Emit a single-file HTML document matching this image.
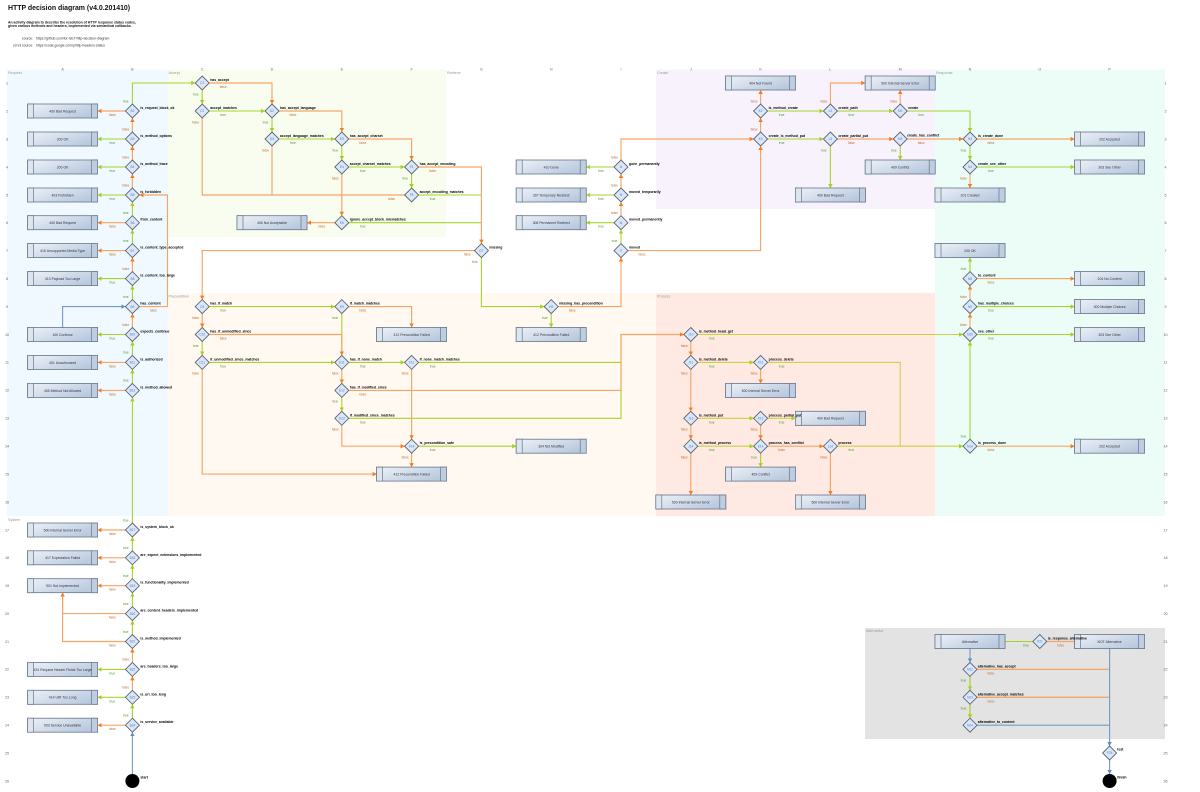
<!DOCTYPE html>
<html><head><meta charset="utf-8"><title>HTTP decision diagram</title>
<style>
html,body{margin:0;padding:0;background:#fff}
svg{display:block;font-family:"Liberation Sans",sans-serif}
path{fill:none}
.g path{stroke:#a9d32c;stroke-width:1.1;marker-end:url(#mg)}
.o path{stroke:#f6a566;stroke-width:1.15;marker-end:url(#mo)}
.b path{stroke:#7399c6;stroke-width:1.1;marker-end:url(#mb)}
.g path.n,.o path.n,.b path.n{marker-end:none}
.n1 text{font-size:3.45px;font-weight:bold;fill:#000}
.id text{font-size:3.2px;fill:#4a7fd0;text-anchor:middle}
.bx text{font-size:3.45px;fill:#334;text-anchor:middle}
.t text{font-size:3.3px;fill:#4f9a2e;text-anchor:middle}
.f text{font-size:3.3px;fill:#c4713a;text-anchor:middle}
.sec text{font-size:3.7px;fill:#999}
.gr text{font-size:3.7px;fill:#666;text-anchor:middle}
</style></head><body>
<svg width="1200" height="792" viewBox="0 0 1200 792" xmlns="http://www.w3.org/2000/svg">
<defs>
<marker id="mg" markerUnits="userSpaceOnUse" markerWidth="5" markerHeight="5" refX="4" refY="2.25" orient="auto"><path d="M0 0L4 2.25L0 4.5Z" style="fill:#a4d01e;stroke:none;marker-end:none"/></marker>
<marker id="mo" markerUnits="userSpaceOnUse" markerWidth="5" markerHeight="5" refX="4" refY="2.25" orient="auto"><path d="M0 0L4 2.25L0 4.5Z" style="fill:#f57d20;stroke:none;marker-end:none"/></marker>
<marker id="mb" markerUnits="userSpaceOnUse" markerWidth="5" markerHeight="5" refX="4" refY="2.25" orient="auto"><path d="M0 0L4 2.25L0 4.5Z" style="fill:#5f8bc2;stroke:none;marker-end:none"/></marker>
<linearGradient id="bg" x1="0" y1="0" x2="1" y2="0.6"><stop offset="0" stop-color="#eef2f8"/><stop offset="1" stop-color="#b9c9de"/></linearGradient>
<g id="d"><path d="M0 -7L7 0L0 7L-7 0Z" style="fill:#dbe7f6;stroke:#5b6675;stroke-width:.9"/></g>
<g id="r"><rect x="-35" y="-7" width="70" height="14" fill="url(#bg)" stroke="#66768c" stroke-width=".8"/><rect x="-35" y="-7" width="6" height="14" fill="#dde5ef" stroke="#66768c" stroke-width=".7"/><rect x="29" y="-7" width="6" height="14" fill="#bfcde0" stroke="#66768c" stroke-width=".7"/></g>
</defs>

<!-- swimlanes -->
<rect x="7" y="69.5" width="161" height="446.5" fill="#f0f9ff"/>
<rect x="168" y="69.5" width="278" height="167.5" fill="#f8fdf0"/>
<rect x="656" y="69.5" width="279" height="139.5" fill="#f8f2fd"/>
<rect x="935" y="69.5" width="230" height="446.5" fill="#ecfdf7"/>
<rect x="168" y="293" width="488" height="223" fill="#fff9f1"/>
<rect x="656" y="293" width="279" height="223" fill="#ffe9e3"/>
<rect x="865" y="628" width="300" height="111" fill="#e3e3e3"/>

<text x="8" y="10" font-size="6.95" font-weight="bold" fill="#111">HTTP decision diagram (v4.0.201410)</text>
<text x="8" y="23.6" font-size="3.45" font-weight="bold" fill="#111">An activity diagram to describe the resolution of HTTP response status codes,</text>
<text x="8" y="27" font-size="3.45" font-weight="bold" fill="#111">given various methods and headers, implemented via semantical callbacks.</text>
<text x="22" y="39.5" font-size="3.4" fill="#333">source:</text>
<text x="36" y="39.5" font-size="3.4" fill="#333">https://github.com/for-GET/http-decision-diagram</text>
<text x="13" y="46.5" font-size="3.4" fill="#333">v3 v3 source:</text>
<text x="36" y="46.5" font-size="3.4" fill="#333">https://code.google.com/p/http-headers-status</text>

<g class="sec">
<text x="8" y="74">Request</text><text x="168.5" y="74">Accept</text><text x="447" y="74">Retrieve</text><text x="657" y="74">Create</text><text x="936" y="74">Response</text>
<text x="168.5" y="297.5">Precondition</text><text x="657" y="297.5">Process</text><text x="8" y="521">System</text><text x="866" y="632">Alternative</text>
</g>
<g class="gr">
<text x="62.6" y="70.5">A</text><text x="132.4" y="70.5">B</text><text x="202.2" y="70.5">C</text><text x="272" y="70.5">D</text><text x="341.8" y="70.5">E</text><text x="411.6" y="70.5">F</text><text x="481.4" y="70.5">G</text><text x="551.2" y="70.5">H</text><text x="621" y="70.5">I</text><text x="690.8" y="70.5">J</text><text x="760.6" y="70.5">K</text><text x="830.4" y="70.5">L</text><text x="900.2" y="70.5">M</text><text x="970" y="70.5">N</text><text x="1039.8" y="70.5">O</text><text x="1109.6" y="70.5">P</text>
<text x="7" y="84.3">1</text><text x="7" y="112.3">2</text><text x="7" y="140.3">3</text><text x="7" y="168.3">4</text><text x="7" y="196.3">5</text><text x="7" y="224">6</text><text x="7" y="251.9">7</text><text x="7" y="279.9">8</text><text x="7" y="307.9">9</text><text x="7" y="335.8">10</text><text x="7" y="363.7">11</text><text x="7" y="391.7">12</text><text x="7" y="419.6">13</text><text x="7" y="447.5">14</text><text x="7" y="475.4">15</text><text x="7" y="503.3">16</text><text x="7" y="531.3">17</text><text x="7" y="559.1">18</text><text x="7" y="587">19</text><text x="7" y="614.9">20</text><text x="7" y="642.8">21</text><text x="7" y="670.7">22</text><text x="7" y="698.6">23</text><text x="7" y="726.5">24</text><text x="7" y="754.3">25</text><text x="7" y="782.3">26</text>
<text x="1165.5" y="84.3">1</text><text x="1165.5" y="112.3">2</text><text x="1165.5" y="140.3">3</text><text x="1165.5" y="168.3">4</text><text x="1165.5" y="196.3">5</text><text x="1165.5" y="224">6</text><text x="1165.5" y="251.9">7</text><text x="1165.5" y="279.9">8</text><text x="1165.5" y="307.9">9</text><text x="1165.5" y="335.8">10</text><text x="1165.5" y="363.7">11</text><text x="1165.5" y="391.7">12</text><text x="1165.5" y="419.6">13</text><text x="1165.5" y="447.5">14</text><text x="1165.5" y="475.4">15</text><text x="1165.5" y="503.3">16</text><text x="1165.5" y="531.3">17</text><text x="1165.5" y="559.1">18</text><text x="1165.5" y="587">19</text><text x="1165.5" y="614.9">20</text><text x="1165.5" y="642.8">21</text><text x="1165.5" y="670.7">22</text><text x="1165.5" y="698.6">23</text><text x="1165.5" y="726.5">24</text><text x="1165.5" y="754.3">25</text><text x="1165.5" y="782.3">26</text>
</g>

<!-- green connectors -->
<g class="g">
<path d="M132.4 104V83H195.2"/><path d="M125.4 139H97.6"/><path d="M125.4 167H97.6"/><path d="M125.4 195H97.6"/><path d="M132.4 215.7V202"/><path d="M132.4 243.6V229.7"/><path d="M125.4 278.6H97.6"/><path d="M132.4 299.6V285.6"/><path d="M125.4 334.5H97.6"/><path d="M132.4 355.4V341.5"/><path d="M132.4 383.4V369.4"/><path d="M132.4 523V397.4"/>
<path d="M132.4 550.8V537"/><path d="M132.4 578.7V564.8"/><path d="M132.4 606.6V592.7"/><path d="M132.4 634.5V620.6"/><path d="M125.4 669.4H97.6"/><path d="M125.4 697.3H97.6"/><path d="M132.4 718.2V704.3"/>
<path d="M202.2 90V104"/><path d="M209.2 111H265"/><path d="M272 118V132"/><path d="M279 139H334.8"/><path d="M341.8 146V160"/><path d="M348.8 167H404.6"/><path d="M411.6 174V188"/><path class="n" d="M418.6 195H481.4"/><path class="n" d="M348.8 222.7H481.4"/>
<path d="M481.4 257.6V306.6H544.2"/><path d="M551.2 313.6V327.5"/><path d="M621 243.6V229.7"/><path d="M614 222.7H586.2"/><path d="M614 195H586.2"/><path d="M614 167H586.2"/>
<path d="M767.6 139H823.4"/><path d="M767.6 111H823.4"/><path d="M837.4 111H893.2"/><path d="M907.2 111H970V132"/><path d="M830.4 146V188"/><path d="M900.2 146V160"/><path d="M970 146V160"/><path d="M977 167H1074.6"/>
<path d="M970 271.6V257.6"/><path d="M977 306.6H1074.6"/><path d="M977 334.5H1074.6"/><path d="M970 439.2V341.5"/>
<path d="M209.2 306.6H334.8"/><path d="M202.2 341.5V355.4"/><path d="M209.2 362.4H334.8"/><path class="n" d="M341.8 313.6V355.4"/><path d="M348.8 362.4H404.6"/><path class="n" d="M418.6 362.4H621"/><path class="n" d="M348.8 418.3H621V334.5"/><path d="M341.8 397.4V411.3"/><path d="M418.6 446.2H516.2"/>
<path d="M697.8 334.5H963" style="stroke:#c9d241"/><path d="M697.8 362.4H753.6" style="stroke:#c9d241"/><path class="n" d="M767.6 362.4H900.2V446.2" style="stroke:#d6cd50"/><path d="M697.8 418.3H753.6" style="stroke:#c9d241"/><path d="M767.6 418.3H795.4" style="stroke:#c9d241"/><path d="M697.8 446.2H753.6" style="stroke:#c9d241"/><path d="M760.6 453.2V467.1"/><path d="M837.4 446.2H963" style="stroke:#c9d241"/>
<path class="n" d="M1032.8 641.5H1005"/><path d="M970 676.4V690.3" style="stroke-width:1.3"/><path d="M970 704.3V718.2" style="stroke-width:1.3"/>
</g>

<!-- orange connectors -->
<g class="o">
<path d="M125.4 111H97.6"/><path d="M132.4 132V118"/><path d="M132.4 160V146"/><path d="M132.4 188V174"/><path d="M125.4 222.7H97.6"/><path d="M125.4 250.6H97.6"/><path d="M132.4 271.6V257.6"/><path d="M139.4 306.6H167.5V195H139.4"/><path d="M132.4 327.5V313.6"/><path d="M125.4 362.4H97.6"/><path d="M125.4 390.4H97.6"/>
<path d="M125.4 530H97.6"/><path d="M125.4 557.8H97.6"/><path d="M125.4 585.7H97.6"/><path d="M125.4 613.6H62.6V592.7"/><path d="M125.4 641.5H62.6V592.7"/><path d="M132.4 662.4V648.5"/><path d="M132.4 690.3V676.4"/><path d="M125.4 725.2H97.6"/>
<path d="M209.2 83H272V104"/><path class="n" d="M202.2 118V195H341.8"/><path d="M279 111H341.8V132"/><path class="n" d="M272 146V195"/><path d="M348.8 139H411.6V160"/><path d="M341.8 174V215.7"/><path d="M418.6 167H481.4V243.6"/><path class="n" d="M404.6 195H341.8"/><path d="M334.8 222.7H307"/><path d="M474.4 250.6H202.2V299.6"/>
<path d="M558.2 306.6H621V257.6"/><path d="M628 250.6H760.6V146"/><path d="M621 215.7V202"/><path d="M621 188V174"/><path d="M621 160V139H753.6"/><path d="M760.6 132V118"/><path d="M760.6 104V90"/><path d="M830.4 104V83H865.2"/><path d="M900.2 104V90"/><path d="M837.4 139H893.2"/><path d="M907.2 139H963"/><path d="M977 139H1074.6"/><path d="M970 174V188"/>
<path d="M977 278.6H1074.6"/><path d="M970 299.6V285.6"/><path d="M970 327.5V313.6"/><path d="M977 446.2H1074.6"/>
<path d="M202.2 313.6V327.5"/><path d="M209.2 334.5H341.8V355.4"/><path d="M202.2 369.4V474.1H376.6"/><path d="M348.8 306.6H411.6V327.5"/><path d="M341.8 369.4V383.4"/><path d="M348.8 390.4H621V334.5H683.8"/><path d="M411.6 369.4V439.2"/><path d="M341.8 425.3V446.2H404.6"/><path d="M411.6 453.2V467.1"/>
<path d="M690.8 341.5V355.4"/><path d="M690.8 369.4V411.3"/><path d="M760.6 369.4V383.4"/><path d="M690.8 425.3V439.2"/><path d="M760.6 425.3V439.2"/><path d="M690.8 453.2V495"/><path d="M767.6 446.2H823.4"/><path d="M830.4 453.2V495"/>
<path class="n" d="M1046.8 641.5H1074.6"/><path class="n" d="M977 669.4H1109.6" style="stroke-width:1.3"/><path class="n" d="M977 697.3H1109.6" style="stroke-width:1.3"/>
</g>

<!-- blue connectors -->
<g class="b">
<path d="M132.4 774V732.2"/><path d="M62.6 327.5V306.6H125.4"/><path d="M970 648.5V662.4"/><path class="n" d="M977 725.2H1109.6"/><path d="M1109.6 648.5V746"/><path d="M1109.6 760V774"/>
</g>

<!-- boxes -->
<use href="#r" x="62.6" y="111"/><use href="#r" x="62.6" y="139"/><use href="#r" x="62.6" y="167"/><use href="#r" x="62.6" y="195"/><use href="#r" x="62.6" y="222.7"/><use href="#r" x="62.6" y="250.6"/><use href="#r" x="62.6" y="278.6"/><use href="#r" x="62.6" y="334.5"/><use href="#r" x="62.6" y="362.4"/><use href="#r" x="62.6" y="390.4"/>
<use href="#r" x="62.6" y="530"/><use href="#r" x="62.6" y="557.8"/><use href="#r" x="62.6" y="585.7"/><use href="#r" x="62.6" y="669.4"/><use href="#r" x="62.6" y="697.3"/><use href="#r" x="62.6" y="725.2"/>
<use href="#r" x="272" y="222.7"/><use href="#r" x="551.2" y="167"/><use href="#r" x="551.2" y="195"/><use href="#r" x="551.2" y="222.7"/><use href="#r" x="760.6" y="83"/><use href="#r" x="900.2" y="83"/><use href="#r" x="830.4" y="195"/><use href="#r" x="900.2" y="167"/><use href="#r" x="970" y="195"/><use href="#r" x="1109.6" y="139"/><use href="#r" x="1109.6" y="167"/>
<use href="#r" x="970" y="250.6"/><use href="#r" x="1109.6" y="278.6"/><use href="#r" x="1109.6" y="306.6"/><use href="#r" x="1109.6" y="334.5"/><use href="#r" x="1109.6" y="446.2"/>
<use href="#r" x="411.6" y="334.5"/><use href="#r" x="411.6" y="474.1"/><use href="#r" x="551.2" y="334.5"/><use href="#r" x="551.2" y="446.2"/><use href="#r" x="760.6" y="390.4"/><use href="#r" x="830.4" y="418.3"/><use href="#r" x="760.6" y="474.1"/><use href="#r" x="690.8" y="502"/><use href="#r" x="830.4" y="502"/>
<use href="#r" x="970" y="641.5"/><use href="#r" x="1109.6" y="641.5"/>
<g class="bx">
<text x="62.6" y="112.4">400 Bad Request</text><text x="62.6" y="140.4">200 OK</text><text x="62.6" y="168.4">200 OK</text><text x="62.6" y="196.4">403 Forbidden</text><text x="62.6" y="224.1">400 Bad Request</text><text x="62.6" y="252">415 Unsupported Media Type</text><text x="62.6" y="280">413 Payload Too Large</text><text x="62.6" y="335.9">100 Continue</text><text x="62.6" y="363.8">401 Unauthorized</text><text x="62.6" y="391.8">405 Method Not Allowed</text>
<text x="62.6" y="531.4">500 Internal Server Error</text><text x="62.6" y="559.2">417 Expectation Failed</text><text x="62.6" y="587.1">501 Not Implemented</text><text x="62.6" y="670.8">431 Request Header Fields Too Large</text><text x="62.6" y="698.7">414 URI Too Long</text><text x="62.6" y="726.6">503 Service Unavailable</text>
<text x="272" y="224.1">406 Not Acceptable</text><text x="551.2" y="168.4">410 Gone</text><text x="551.2" y="196.4">307 Temporary Redirect</text><text x="551.2" y="224.1">308 Permanent Redirect</text><text x="760.6" y="84.4">404 Not Found</text><text x="900.2" y="84.4">500 Internal Server Error</text><text x="830.4" y="196.4">400 Bad Request</text><text x="900.2" y="168.4">409 Conflict</text><text x="970" y="196.4">201 Created</text><text x="1109.6" y="140.4">202 Accepted</text><text x="1109.6" y="168.4">303 See Other</text>
<text x="970" y="252">200 OK</text><text x="1109.6" y="280">204 No Content</text><text x="1109.6" y="308">300 Multiple Choices</text><text x="1109.6" y="335.9">303 See Other</text><text x="1109.6" y="447.6">202 Accepted</text>
<text x="411.6" y="335.9">412 Precondition Failed</text><text x="411.6" y="475.5">412 Precondition Failed</text><text x="551.2" y="335.9">412 Precondition Failed</text><text x="551.2" y="447.6">304 Not Modified</text><text x="760.6" y="391.8">500 Internal Server Error</text><text x="830.4" y="419.7">400 Bad Request</text><text x="760.6" y="475.5">409 Conflict</text><text x="690.8" y="503.4">500 Internal Server Error</text><text x="830.4" y="503.4">500 Internal Server Error</text>
<text x="970" y="642.9">Alternative</text><text x="1109.6" y="642.9">NOT Alternative</text>
</g>

<!-- diamonds -->
<use href="#d" x="132.4" y="111"/><use href="#d" x="132.4" y="139"/><use href="#d" x="132.4" y="167"/><use href="#d" x="132.4" y="195"/><use href="#d" x="132.4" y="222.7"/><use href="#d" x="132.4" y="250.6"/><use href="#d" x="132.4" y="278.6"/><use href="#d" x="132.4" y="306.6"/><use href="#d" x="132.4" y="334.5"/><use href="#d" x="132.4" y="362.4"/><use href="#d" x="132.4" y="390.4"/>
<use href="#d" x="132.4" y="530"/><use href="#d" x="132.4" y="557.8"/><use href="#d" x="132.4" y="585.7"/><use href="#d" x="132.4" y="613.6"/><use href="#d" x="132.4" y="641.5"/><use href="#d" x="132.4" y="669.4"/><use href="#d" x="132.4" y="697.3"/><use href="#d" x="132.4" y="725.2"/>
<use href="#d" x="202.2" y="83"/><use href="#d" x="202.2" y="111"/><use href="#d" x="272" y="111"/><use href="#d" x="272" y="139"/><use href="#d" x="341.8" y="139"/><use href="#d" x="341.8" y="167"/><use href="#d" x="411.6" y="167"/><use href="#d" x="411.6" y="195"/><use href="#d" x="341.8" y="222.7"/><use href="#d" x="481.4" y="250.6"/><use href="#d" x="551.2" y="306.6"/>
<use href="#d" x="621" y="250.6"/><use href="#d" x="621" y="222.7"/><use href="#d" x="621" y="195"/><use href="#d" x="621" y="167"/><use href="#d" x="760.6" y="139"/><use href="#d" x="760.6" y="111"/><use href="#d" x="830.4" y="111"/><use href="#d" x="830.4" y="139"/><use href="#d" x="900.2" y="111"/><use href="#d" x="900.2" y="139"/><use href="#d" x="970" y="139"/><use href="#d" x="970" y="167"/>
<use href="#d" x="970" y="278.6"/><use href="#d" x="970" y="306.6"/><use href="#d" x="970" y="334.5"/><use href="#d" x="970" y="446.2"/>
<use href="#d" x="202.2" y="306.6"/><use href="#d" x="202.2" y="334.5"/><use href="#d" x="202.2" y="362.4"/><use href="#d" x="341.8" y="306.6"/><use href="#d" x="341.8" y="362.4"/><use href="#d" x="341.8" y="390.4"/><use href="#d" x="341.8" y="418.3"/><use href="#d" x="411.6" y="362.4"/><use href="#d" x="411.6" y="446.2"/>
<use href="#d" x="690.8" y="334.5"/><use href="#d" x="690.8" y="362.4"/><use href="#d" x="690.8" y="418.3"/><use href="#d" x="690.8" y="446.2"/><use href="#d" x="760.6" y="362.4"/><use href="#d" x="760.6" y="418.3"/><use href="#d" x="760.6" y="446.2"/><use href="#d" x="830.4" y="446.2"/>
<use href="#d" x="1039.8" y="641.5"/><use href="#d" x="970" y="669.4"/><use href="#d" x="970" y="697.3"/><use href="#d" x="970" y="725.2"/><use href="#d" x="1109.6" y="753"/>
<circle cx="132.4" cy="781" r="7" fill="#000"/><circle cx="1109.6" cy="781" r="7" fill="#000"/>

<g class="id">
<text x="132.4" y="112.2">B2</text><text x="132.4" y="140.2">B3</text><text x="132.4" y="168.2">B4</text><text x="132.4" y="196.2">B5</text><text x="132.4" y="223.9">B6</text><text x="132.4" y="251.8">B7</text><text x="132.4" y="279.8">B8</text><text x="132.4" y="307.8">B9</text><text x="132.4" y="335.7">B10</text><text x="132.4" y="363.6">B11</text><text x="132.4" y="391.6">B12</text>
<text x="132.4" y="531.2">B17</text><text x="132.4" y="559">B18</text><text x="132.4" y="586.9">B19</text><text x="132.4" y="614.8">B20</text><text x="132.4" y="642.7">B21</text><text x="132.4" y="670.6">B22</text><text x="132.4" y="698.5">B23</text><text x="132.4" y="726.4">B24</text>
<text x="202.2" y="84.2">C1</text><text x="202.2" y="112.2">C2</text><text x="272" y="112.2">D2</text><text x="272" y="140.2">D3</text><text x="341.8" y="140.2">E3</text><text x="341.8" y="168.2">E4</text><text x="411.6" y="168.2">F4</text><text x="411.6" y="196.2">F5</text><text x="341.8" y="223.9">E6</text><text x="481.4" y="251.8">G7</text><text x="551.2" y="307.8">H9</text>
<text x="621" y="251.8">I7</text><text x="621" y="223.9">I6</text><text x="621" y="196.2">I5</text><text x="621" y="168.2">I4</text><text x="760.6" y="140.2">K3</text><text x="760.6" y="112.2">K2</text><text x="830.4" y="112.2">L2</text><text x="830.4" y="140.2">L3</text><text x="900.2" y="112.2">M2</text><text x="900.2" y="140.2">M3</text><text x="970" y="140.2">N3</text><text x="970" y="168.2">N4</text>
<text x="970" y="279.8">N8</text><text x="970" y="307.8">N9</text><text x="970" y="335.7">N10</text><text x="970" y="447.4">N14</text>
<text x="202.2" y="307.8">C9</text><text x="202.2" y="335.7">C10</text><text x="202.2" y="363.6">C11</text><text x="341.8" y="307.8">E9</text><text x="341.8" y="363.6">E11</text><text x="341.8" y="391.6">E12</text><text x="341.8" y="419.5">E13</text><text x="411.6" y="363.6">F11</text><text x="411.6" y="447.4">F14</text>
<text x="690.8" y="335.7">J10</text><text x="690.8" y="363.6">J11</text><text x="690.8" y="419.5">J13</text><text x="690.8" y="447.4">J14</text><text x="760.6" y="363.6">K11</text><text x="760.6" y="419.5">K13</text><text x="760.6" y="447.4">K14</text><text x="830.4" y="447.4">L14</text>
<text x="1039.8" y="642.7">O21</text><text x="970" y="670.6">N22</text><text x="970" y="698.5">N23</text><text x="970" y="726.4">N24</text><text x="1109.6" y="754.2">P25</text>
</g>

<g class="n1">
<text x="140.4" y="109">is_request_block_ok</text><text x="140.4" y="137">is_method_options</text><text x="140.4" y="165">is_method_trace</text><text x="140.4" y="193">is_forbidden</text><text x="140.4" y="220.7">from_content</text><text x="140.4" y="248.6">is_content_type_accepted</text><text x="140.4" y="276.6">is_content_too_large</text><text x="140.4" y="304.6">has_content</text><text x="140.4" y="332.5">expects_continue</text><text x="140.4" y="360.4">is_authorized</text><text x="140.4" y="388.4">is_method_allowed</text>
<text x="140.4" y="528">is_system_block_ok</text><text x="140.4" y="555.8">are_expect_extensions_implemented</text><text x="140.4" y="583.7">is_functionality_implemented</text><text x="140.4" y="611.6">are_content_headers_implemented</text><text x="140.4" y="639.5">is_method_implemented</text><text x="140.4" y="667.4">are_headers_too_large</text><text x="140.4" y="695.3">is_uri_too_long</text><text x="140.4" y="723.2">is_service_available</text><text x="140.4" y="778.6">start</text>
<text x="210.2" y="81">has_accept</text><text x="210.2" y="109">accept_matches</text><text x="280" y="109">has_accept_language</text><text x="280" y="137">accept_language_matches</text><text x="349.8" y="137">has_accept_charset</text><text x="349.8" y="165">accept_charset_matches</text><text x="419.6" y="165">has_accept_encoding</text><text x="419.6" y="193">accept_encoding_matches</text><text x="349.8" y="220.7">ignore_accept_block_mismatches</text><text x="489.4" y="248.6">missing</text><text x="559.2" y="304.6">missing_has_precondition</text>
<text x="629" y="248.6">moved</text><text x="629" y="220.7">moved_permanently</text><text x="629" y="193">moved_temporarily</text><text x="629" y="165">gone_permanently</text><text x="768.6" y="137">create_is_method_put</text><text x="768.6" y="109">is_method_create</text><text x="838.4" y="109">create_path</text><text x="838.4" y="137">create_partial_put</text><text x="908.2" y="109">create</text><text x="907" y="136.5">create_has_conflict</text><text x="978" y="137">is_create_done</text><text x="978" y="165">create_see_other</text>
<text x="978" y="276.6">to_content</text><text x="978" y="304.6">has_multiple_choices</text><text x="978" y="332.5">see_other</text><text x="978" y="444.2">is_process_done</text>
<text x="210.2" y="304.6">has_if_match</text><text x="210.2" y="332.5">has_if_unmodified_since</text><text x="210.2" y="360.4">if_unmodified_since_matches</text><text x="349.8" y="304.6">if_match_matches</text><text x="349.8" y="360.4">has_if_none_match</text><text x="349.8" y="388.4">has_if_modified_since</text><text x="349.8" y="416.3">if_modified_since_matches</text><text x="419.6" y="360.4">if_none_match_matches</text><text x="419.6" y="444.2">is_precondition_safe</text>
<text x="698.8" y="332.5">is_method_head_get</text><text x="698.8" y="360.4">is_method_delete</text><text x="698.8" y="416.3">is_method_put</text><text x="698.8" y="444.2">is_method_process</text><text x="768.6" y="360.4">process_delete</text><text x="768.6" y="416.3">process_partial_put</text><text x="768.6" y="444.2">process_has_conflict</text><text x="838.4" y="444.2">process</text>
<text x="1047.8" y="639.5">is_response_alternative</text><text x="977.8" y="667.4">alternative_has_accept</text><text x="977.8" y="695.3">alternative_accept_matches</text><text x="977.8" y="723.2">alternative_to_content</text><text x="1117.3" y="750.6">test</text><text x="1117.3" y="778.6">finish</text>
</g>

<g class="t">
<text x="125.7" y="102.3">true</text><text x="112.4" y="144">true</text><text x="112.4" y="172">true</text><text x="112.4" y="200">true</text><text x="125.7" y="214">true</text><text x="125.7" y="241.9">true</text><text x="112.4" y="283.6">true</text><text x="125.7" y="297.9">true</text><text x="112.4" y="339.5">true</text><text x="125.7" y="353.7">true</text><text x="125.7" y="381.7">true</text><text x="125.7" y="521.3">true</text><text x="125.7" y="549.1">true</text><text x="125.7" y="577">true</text><text x="125.7" y="604.9">true</text><text x="125.7" y="632.8">true</text><text x="112.4" y="674.4">true</text><text x="112.4" y="702.3">true</text><text x="125.7" y="716.5">true</text>
<text x="195.7" y="95.3">true</text><text x="223.2" y="116">true</text><text x="265.5" y="123.3">true</text><text x="293" y="144">true</text><text x="335.3" y="151.3">true</text><text x="362.8" y="172">true</text><text x="405.1" y="179.3">true</text><text x="432.6" y="200">true</text><text x="362.8" y="227.7">true</text><text x="474.9" y="262.9">true</text><text x="544.7" y="318.9">true</text>
<text x="614.5" y="241.9">true</text><text x="601" y="227.7">true</text><text x="601" y="200">true</text><text x="601" y="172">true</text><text x="781.6" y="144">true</text><text x="781.6" y="116">true</text><text x="851.4" y="116">true</text><text x="823.9" y="151.3">true</text><text x="921.2" y="116">true</text><text x="893.7" y="151.3">true</text><text x="963.5" y="151.3">true</text><text x="991" y="172">true</text>
<text x="963.5" y="269.9">true</text><text x="991" y="311.6">true</text><text x="991" y="339.5">true</text><text x="963.5" y="437.5">true</text>
<text x="223.2" y="311.6">true</text><text x="195.7" y="346.8">true</text><text x="223.2" y="367.4">true</text><text x="335.3" y="318.9">true</text><text x="362.8" y="367.4">true</text><text x="335.3" y="402.7">true</text><text x="362.8" y="423.3">true</text><text x="432.6" y="367.4">true</text><text x="432.6" y="451.2">true</text>
<text x="711.8" y="339.5">true</text><text x="711.8" y="367.4">true</text><text x="711.8" y="423.3">true</text><text x="711.8" y="451.2">true</text><text x="781.6" y="367.4">true</text><text x="781.6" y="423.3">true</text><text x="754.1" y="458.5">true</text><text x="851.4" y="451.2">true</text>
<text x="1026" y="646.5">true</text><text x="963.5" y="681.7">true</text><text x="963.5" y="709.6">true</text>
</g>
<g class="f">
<text x="112.4" y="116">false</text><text x="125.7" y="130.3">false</text><text x="125.7" y="158.3">false</text><text x="125.7" y="186.3">false</text><text x="112.4" y="227.7">false</text><text x="112.4" y="255.6">false</text><text x="125.7" y="269.9">false</text><text x="153.4" y="311.6">false</text><text x="125.7" y="325.8">false</text><text x="112.4" y="367.4">false</text><text x="112.4" y="395.4">false</text><text x="112.4" y="535">false</text><text x="112.4" y="562.8">false</text><text x="112.4" y="590.7">false</text><text x="112.4" y="618.6">false</text><text x="112.4" y="646.5">false</text><text x="125.7" y="660.7">false</text><text x="125.7" y="688.6">false</text><text x="112.4" y="730.2">false</text>
<text x="223.2" y="88">false</text><text x="195.7" y="123.3">false</text><text x="293" y="116">false</text><text x="265.5" y="151.3">false</text><text x="362.8" y="144">false</text><text x="335.3" y="179.3">false</text><text x="432.6" y="172">false</text><text x="391.6" y="200">false</text><text x="321.8" y="227.7">false</text><text x="467.3" y="255.6">false</text><text x="572.2" y="311.6">false</text>
<text x="642" y="255.6">false</text><text x="614.5" y="214">false</text><text x="614.5" y="186.3">false</text><text x="614.5" y="158.3">false</text><text x="754.1" y="130.3">false</text><text x="754.1" y="102.3">false</text><text x="823.9" y="102.3">false</text><text x="851.4" y="144">false</text><text x="893.7" y="102.3">false</text><text x="921.2" y="144">false</text><text x="991" y="144">false</text><text x="963.5" y="179.3">false</text>
<text x="991" y="283.6">false</text><text x="963.5" y="297.9">false</text><text x="963.5" y="325.8">false</text><text x="991" y="451.2">false</text>
<text x="195.7" y="318.9">false</text><text x="223.2" y="339.5">false</text><text x="195.7" y="374.7">false</text><text x="362.8" y="311.6">false</text><text x="335.3" y="374.7">false</text><text x="362.8" y="395.4">false</text><text x="335.3" y="430.6">false</text><text x="405.1" y="374.7">false</text><text x="405.1" y="458.5">false</text>
<text x="684.3" y="346.8">false</text><text x="684.3" y="374.7">false</text><text x="684.3" y="430.6">false</text><text x="684.3" y="458.5">false</text><text x="754.1" y="374.7">false</text><text x="754.1" y="430.6">false</text><text x="781.6" y="451.2">false</text><text x="823.9" y="458.5">false</text>
<text x="1060.7" y="646.5">false</text><text x="991" y="674.4">false</text><text x="991" y="702.3">false</text>
</g>
</svg>
</body></html>
